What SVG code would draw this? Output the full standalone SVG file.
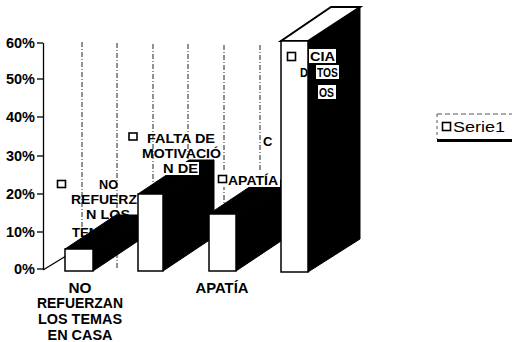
<svg xmlns="http://www.w3.org/2000/svg" width="514" height="342" viewBox="0 0 514 342">
<style>
.t{font-family:"Liberation Sans",Arial,sans-serif;font-weight:bold;font-size:14px;fill:#000}
.s{font-size:13px}
.n{font-family:"Liberation Sans",Arial,sans-serif;font-size:14px;fill:#000}
.ax{text-anchor:end}
.c{text-anchor:middle}
.grid{stroke:#222;stroke-width:1;stroke-dasharray:5 2 1 2;fill:none}
.front{fill:#fff;stroke:#000;stroke-width:1.5}
.dark{fill:#000;stroke:#000;stroke-width:1}
.key{fill:#fff;stroke:#000;stroke-width:1.6}
.bg{fill:#fff}
</style>
<rect width="514" height="342" fill="#fff"/>
<g id="axes">
<g class="grid">
<line x1="82" y1="42" x2="82" y2="262"/>
<line x1="117" y1="43" x2="117" y2="268"/>
<line x1="153" y1="44" x2="153" y2="240"/>
<line x1="188" y1="44" x2="188" y2="240"/>
<line x1="224" y1="45" x2="224" y2="240"/>
<line x1="260" y1="45" x2="260" y2="240"/>
</g>
<line x1="43.5" y1="43" x2="43.5" y2="270" stroke="#000" stroke-width="1.3"/>
<g stroke="#000" stroke-width="1.3">
<line x1="37" y1="43" x2="43" y2="43"/>
<line x1="37" y1="79" x2="43" y2="79"/>
<line x1="37" y1="117" x2="43" y2="117"/>
<line x1="37" y1="156" x2="43" y2="156"/>
<line x1="37" y1="194" x2="43" y2="194"/>
<line x1="37" y1="232" x2="43" y2="232"/>
<line x1="37" y1="269" x2="43" y2="269"/>
<line x1="43" y1="270" x2="66" y2="256"/>
</g>
<text class="t ax" x="35" y="48" textLength="29" lengthAdjust="spacingAndGlyphs">60%</text>
<text class="t ax" x="35" y="84" textLength="29" lengthAdjust="spacingAndGlyphs">50%</text>
<text class="t ax" x="35" y="122" textLength="29" lengthAdjust="spacingAndGlyphs">40%</text>
<text class="t ax" x="35" y="161" textLength="29" lengthAdjust="spacingAndGlyphs">30%</text>
<text class="t ax" x="35" y="199" textLength="29" lengthAdjust="spacingAndGlyphs">20%</text>
<text class="t ax" x="35" y="237" textLength="29" lengthAdjust="spacingAndGlyphs">10%</text>
<text class="t ax" x="35" y="274" textLength="21" lengthAdjust="spacingAndGlyphs">0%</text>
</g>
<g id="label1">
<rect class="key" x="57.5" y="180.5" width="8" height="7"/>
<text class="t s" x="99" y="189" textLength="19" lengthAdjust="spacingAndGlyphs">NO</text>
<text class="t s" x="71" y="204" textLength="66" lengthAdjust="spacingAndGlyphs">REFUERZ</text>
<text class="t s" x="86" y="219" textLength="44" lengthAdjust="spacingAndGlyphs">N LOS</text>
<text class="t s" x="72" y="237" textLength="46" lengthAdjust="spacingAndGlyphs">TEMAS</text>
</g>
<g id="label2">
<rect class="key" x="129" y="133" width="8" height="7"/>
<text class="t s" x="147" y="143" textLength="68" lengthAdjust="spacingAndGlyphs">FALTA DE</text>
<text class="t s" x="142" y="158" textLength="79" lengthAdjust="spacingAndGlyphs">MOTIVACIÓ</text>
</g>
<g id="bar1">
<polygon class="dark" points="65,249 93,249 144,215 116,215"/>
<polygon class="dark" points="93,249 144,215 144,237 93,271"/>
<rect class="front" x="65" y="249" width="28" height="22"/>
</g>
<g id="bar2">
<polygon class="dark" points="138,194 163,194 214,160 189,160"/>
<polygon class="dark" points="163,194 214,160 214,237 163,271"/>
<rect class="front" x="138" y="194" width="25" height="77"/>
</g>
<g id="bar3">
<polygon class="dark" points="209,214 236,214 287,180 260,180"/>
<polygon class="dark" points="236,214 287,180 287,237 236,271"/>
<rect class="front" x="209" y="214" width="27" height="57"/>
</g>
<g id="bar4">
<polygon class="dark" points="308,41 360,7 360,239 308,272"/>
<polygon points="281,41 308,41 360,7 331,7" fill="#fff" stroke="#000" stroke-width="2"/>
<rect class="front" x="281" y="41" width="27" height="231"/>
</g>
<g id="label2b">
<rect class="bg" x="161" y="162" width="38" height="13"/>
<text class="t s" x="163" y="173" textLength="35" lengthAdjust="spacingAndGlyphs">N DE</text>
</g>
<g id="label3">
<rect class="bg" x="216" y="172" width="64" height="15"/>
<rect class="key" x="218.5" y="175.5" width="8" height="7"/>
<text class="t s" x="228" y="185" textLength="50" lengthAdjust="spacingAndGlyphs">APATÍA</text>
</g>
<g id="label4">
<rect class="key" x="287.5" y="52.5" width="8" height="8"/>
<rect class="bg" x="309" y="49" width="27" height="14"/>
<text class="t s" x="310" y="61" textLength="25" lengthAdjust="spacingAndGlyphs">CIA</text>
<text class="t s" x="300" y="77" textLength="8" lengthAdjust="spacingAndGlyphs">D</text>
<rect class="bg" x="316" y="65" width="23" height="14"/>
<text class="t s" x="317" y="77" textLength="21" lengthAdjust="spacingAndGlyphs">TOS</text>
<rect class="bg" x="318" y="85" width="18" height="14"/>
<text class="t s" x="319" y="97" textLength="15" lengthAdjust="spacingAndGlyphs">OS</text>
<text class="t s" x="263" y="146">C</text>
</g>
<g id="categories">
<text class="t c" x="80" y="293" textLength="23" lengthAdjust="spacingAndGlyphs">NO</text>
<text class="t c" x="80" y="308" textLength="86" lengthAdjust="spacingAndGlyphs">REFUERZAN</text>
<text class="t c" x="80" y="324" textLength="84" lengthAdjust="spacingAndGlyphs">LOS TEMAS</text>
<text class="t c" x="80" y="340" textLength="65" lengthAdjust="spacingAndGlyphs">EN CASA</text>
<text class="t c" x="222" y="293" textLength="53" lengthAdjust="spacingAndGlyphs">APATÍA</text>
</g>
<g id="legend">
<line x1="437" y1="114" x2="512" y2="114" stroke="#555" stroke-width="1" stroke-dasharray="5 3"/>
<line x1="437" y1="114" x2="437" y2="139" stroke="#555" stroke-width="1" stroke-dasharray="3 3"/>
<line x1="437" y1="140.5" x2="512" y2="140.5" stroke="#000" stroke-width="3"/>
<rect class="key" x="442.5" y="122.5" width="8" height="8"/>
<text class="n" x="453" y="132" textLength="52" lengthAdjust="spacingAndGlyphs">Serie1</text>
</g>
</svg>
